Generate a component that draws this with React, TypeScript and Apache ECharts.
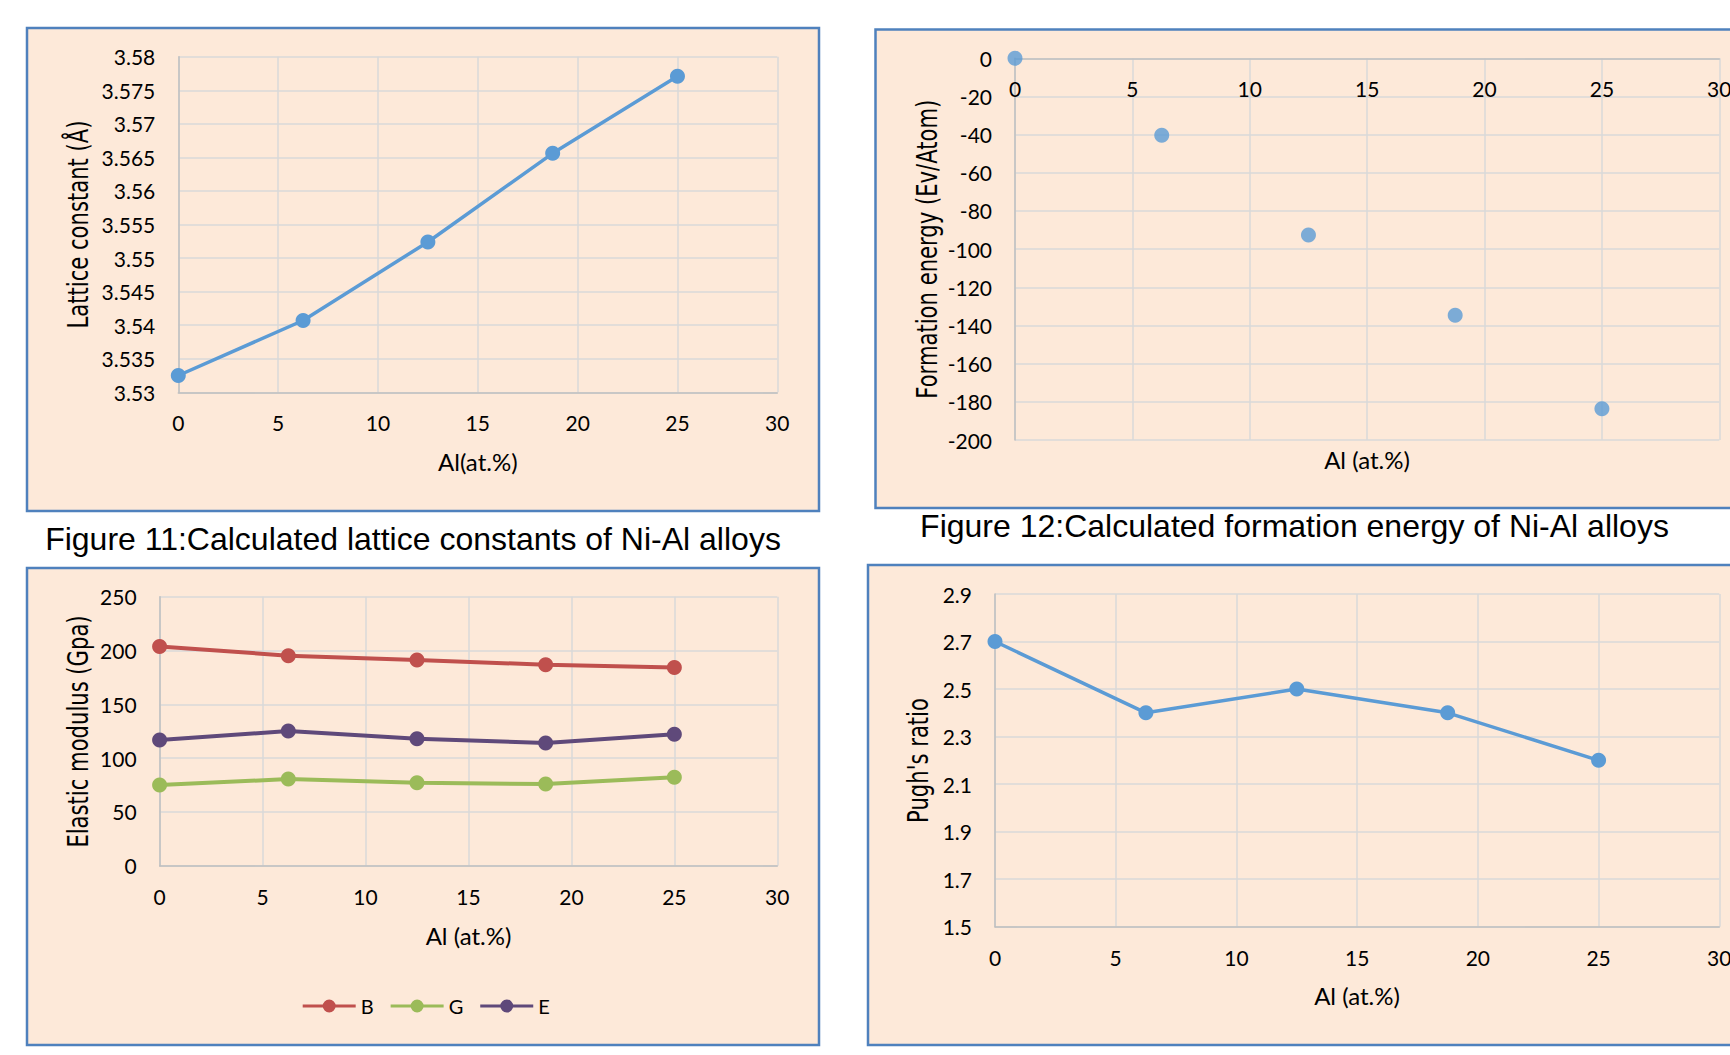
import React, { useEffect, useRef } from "react";
import * as echarts from "echarts";

// ---------- data ----------
const alPercent = [0, 6.25, 12.5, 18.75, 25];
const latticeConstant = [3.5325, 3.5407, 3.5524, 3.5656, 3.5771];
const formationEnergy = [0, -40.3, -92.6, -134.6, -183.6];
const modulusB = [203.8, 195.2, 191.1, 186.8, 184.3];
const modulusG = [75.0, 80.5, 77.1, 75.9, 82.1];
const modulusE = [116.8, 125.2, 118.0, 114.0, 122.1];
const pughRatio = [2.7, 2.4, 2.5, 2.4, 2.2];
const elasticNames = ["B", "G", "E"];
const captions = [
  "Figure 11:Calculated lattice constants of Ni-Al alloys",
  "Figure 12:Calculated formation energy of Ni-Al alloys",
];
const yTitles = ["Lattice constant (Å)", "Formation energy (Ev/Atom)", "Elastic modulus (Gpa)", "Pugh's ratio"];
const xTitles = ["Al(at.%)", "Al (at.%)", "Al (at.%)", "Al (at.%)"];

// ---------- styles ----------
const BLUE = "#5B9BD5";
const RED = "#C0504D";
const GREEN = "#9BBB59";
const PURPLE = "#5F497A";
const PANEL_FILL = "#FDE9D9";
const PANEL_STROKE = "#4F81BD";
const AXIS_COLOR = "#BFBFBF";
const GRID_COLOR = "#D9D9D9";
const TICK_FONT = { fontFamily: "Lato", fontSize: 21, color: "#000" };
const LEGEND_ICON =
  "path://M0,5.5L53,5.5L53,8.5L0,8.5Z M20,7A6.5,6.5 0 1 1 33,7A6.5,6.5 0 1 1 20,7Z";

const zip = (xs: number[], ys: number[]) => xs.map((x, i) => [x, ys[i]]);

function xAxisOf(gridIndex: number, extra: any = {}) {
  return {
    type: "value",
    gridIndex,
    min: 0,
    max: 30,
    interval: 5,
    axisLine: { show: true, onZero: false, lineStyle: { color: AXIS_COLOR, width: 1.5 } },
    axisTick: { show: false },
    axisLabel: { ...TICK_FONT, margin: 20 },
    splitLine: { show: true, lineStyle: { color: GRID_COLOR, width: 1.5 } },
    ...extra,
  };
}

function yAxisOf(gridIndex: number, min: number, max: number, interval: number, formatter?: any) {
  return {
    type: "value",
    gridIndex,
    min,
    max,
    interval,
    axisLine: { show: true, onZero: false, lineStyle: { color: AXIS_COLOR, width: 1.5 } },
    axisTick: { show: false },
    axisLabel: { ...TICK_FONT, margin: 23, ...(formatter ? { formatter } : {}) },
    splitLine: { show: true, lineStyle: { color: GRID_COLOR, width: 1.5 } },
  };
}

function lineSeries(name: string | undefined, idx: number, data: number[][], color: string, width: number, size: number) {
  return {
    type: "line",
    name,
    xAxisIndex: idx,
    yAxisIndex: idx,
    data,
    color,
    symbol: "circle",
    symbolSize: size,
    showSymbol: true,
    lineStyle: { color, width },
    itemStyle: { color, borderWidth: 0 },
  };
}

function panelRect(x: number, y: number, w: number, h: number) {
  return {
    type: "rect",
    z: -10,
    shape: { x, y, width: w, height: h },
    style: { fill: PANEL_FILL, stroke: PANEL_STROKE, lineWidth: 2.5 },
  };
}

function textEl(text: string, x: number, y: number, font: string, extra: any = {}) {
  return {
    type: "text",
    x,
    y,
    ...extra,
    style: {
      text,
      font,
      fill: "#000",
      align: "center",
      verticalAlign: "middle",
      textAlign: "center",
      textVerticalAlign: "middle",
    },
  };
}

const Y_TITLE_FONT = '28px "DejaVu Sans"';
const X_TITLE_FONT = '24px Lato';
const CAPTION_FONT = '32px "Liberation Sans", Arial, sans-serif';
const ROT = { rotation: Math.PI / 2, scaleX: 0.755 };

export default function App() {
  const ref = useRef<HTMLDivElement>(null);

  useEffect(() => {
    if (!ref.current) return;
    const chart = echarts.init(ref.current, undefined, { renderer: "svg" });
    const option: any = {
      animation: false,
      backgroundColor: "#ffffff",
      grid: [
        { left: 178.3, top: 56.7, width: 599, height: 335.6, outerBoundsMode: "none" },
        { left: 1015, top: 58.3, width: 704.3, height: 381.7, outerBoundsMode: "none" },
        { left: 159.6, top: 596.7, width: 617.7, height: 269, outerBoundsMode: "none" },
        { left: 995, top: 594, width: 724.3, height: 332.7, outerBoundsMode: "none" },
      ],
      xAxis: [
        xAxisOf(0),
        xAxisOf(1, { position: "top", axisLabel: { ...TICK_FONT, margin: 20, inside: true } }),
        xAxisOf(2),
        xAxisOf(3),
      ],
      yAxis: [
        yAxisOf(0, 3.53, 3.58, 0.005, (v: number) => String(Number(v.toFixed(3)))),
        yAxisOf(1, -200, 0, 20),
        yAxisOf(2, 0, 250, 50),
        yAxisOf(3, 1.5, 2.9, 0.2, (v: number) => v.toFixed(1)),
      ],
      legend: {
        data: elasticNames.map((name) => ({ name, icon: LEGEND_ICON })),
        left: 302.7,
        top: 996,
        padding: 0,
        itemWidth: 53,
        itemHeight: 13,
        itemGap: 17,
        textStyle: { fontFamily: "Lato", fontSize: 20, color: "#000" },
      },
      series: [
        lineSeries(undefined, 0, zip(alPercent, latticeConstant), BLUE, 3.5, 15),
        {
          type: "scatter",
          xAxisIndex: 1,
          yAxisIndex: 1,
          data: zip(alPercent, formationEnergy),
          symbol: "circle",
          symbolSize: 15,
          itemStyle: { color: BLUE },
        },
        lineSeries(elasticNames[0], 2, zip(alPercent, modulusB), RED, 4, 15),
        lineSeries(elasticNames[1], 2, zip(alPercent, modulusG), GREEN, 4, 15),
        lineSeries(elasticNames[2], 2, zip(alPercent, modulusE), PURPLE, 4, 15),
        lineSeries(undefined, 3, zip(alPercent, pughRatio), BLUE, 3.5, 15),
      ],
      graphic: [
        panelRect(27, 28, 792, 483),
        panelRect(875.5, 29.5, 900, 478.5),
        panelRect(27, 568, 792, 477),
        panelRect(868, 565, 900, 480),
        textEl(captions[0], 413, 539, CAPTION_FONT),
        textEl(captions[1], 1294.5, 525.5, CAPTION_FONT),
        textEl(yTitles[0], 78.4, 224.5, Y_TITLE_FONT, ROT),
        textEl(yTitles[1], 927.7, 249.2, Y_TITLE_FONT, ROT),
        textEl(yTitles[2], 78.9, 731.5, Y_TITLE_FONT, ROT),
        textEl(yTitles[3], 918.3, 760.5, Y_TITLE_FONT, ROT),
        textEl(xTitles[0], 477.8, 461.5, X_TITLE_FONT),
        textEl(xTitles[1], 1367, 459, X_TITLE_FONT),
        textEl(xTitles[2], 468.5, 935, X_TITLE_FONT),
        textEl(xTitles[3], 1357, 995.5, X_TITLE_FONT),
      ],
    };
    chart.setOption(option);
    return () => chart.dispose();
  }, []);

  return (
    <div
      ref={ref}
      style={{ position: "absolute", left: 0, top: 0, width: 1730, height: 1055 }}
    />
  );
}
